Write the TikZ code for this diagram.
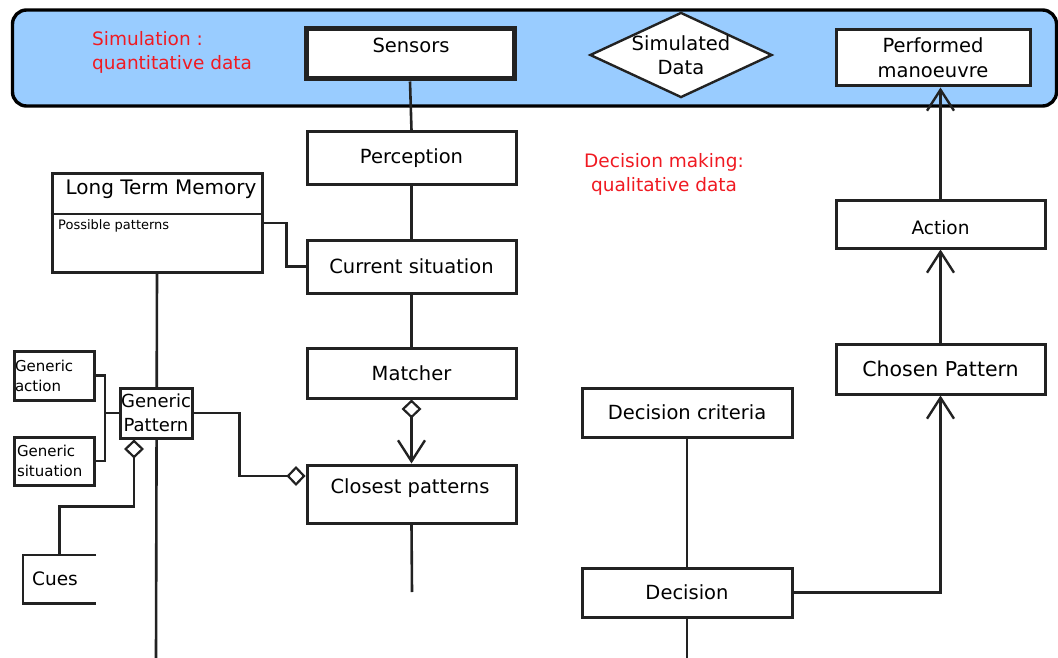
\documentclass[tikz,border=0pt]{standalone}
\usepackage{fontspec}
\setmainfont{DejaVu Sans}
\usetikzlibrary{arrows.meta,shapes.geometric}
\definecolor{bandblue}{HTML}{99CCFF}
\definecolor{redtxt}{HTML}{F01A22}
\definecolor{linec}{HTML}{222222}
\tikzset{
  box/.style={draw=linec, line width=3pt, fill=white, rectangle, inner sep=2pt, font=\fontsize{19.5}{25}\selectfont, align=center},
  smallbox/.style={draw=linec, line width=3pt, fill=white, rectangle, inner sep=1pt, font=\fontsize{15}{20}\selectfont, align=left},
  conn/.style={draw=linec, line width=2.6pt},
  redlabel/.style={text=redtxt, font=\fontsize{18.5}{24}\selectfont, inner sep=0pt},
  txt/.style={font=\fontsize{19.5}{25}\selectfont, inner sep=0pt},
  barbtip/.tip={Straight Barb[length=21pt,width=27pt,line width=2.4pt]},
  aggtip/.tip={Diamond[open,length=19pt,width=20pt,line width=2.2pt]},
}
\begin{document}
\begin{tikzpicture}[x=1pt,y=-1pt]
\useasboundingbox (0,0) rectangle (1058,658);
\fill[white] (0,0) rectangle (1058,658);

% top band
\node[draw=black, line width=3.4pt, fill=bandblue, rounded corners=14pt, minimum width=1044pt, minimum height=96pt, inner sep=0pt] (band) at (534.5,58) {};
\node[redlabel, anchor=west, align=left] (simtxt) at (92,52) {Simulation :\\quantitative data};
\node[draw=linec, line width=5pt, fill=white, minimum width=208pt, minimum height=50pt, inner sep=0pt] (sens) at (410,54) {};
\node[txt] (senstxt) at (411,45) {Sensors};
\node[diamond, draw=linec, line width=2.4pt, fill=white, minimum width=178pt, minimum height=83pt, aspect=2.14, inner sep=0pt, font=\fontsize{19.5}{24}\selectfont, align=center] (simdata) at (681,55) {Simulated\\Data};
\node[box, minimum width=194pt, minimum height=56pt] (perf) at (933,58) {Performed\\manoeuvre};

% central column
\node[box, minimum width=209pt, minimum height=53pt] (perc) at (411.5,158.5) {Perception};
\node[box, minimum width=209pt, minimum height=53pt] (cur) at (411.5,266.5) {Current situation};
\node[box, minimum width=209pt, minimum height=50pt] (match) at (411.5,373) {Matcher};
\node[draw=linec, line width=3pt, fill=white, minimum width=209pt, minimum height=58pt, inner sep=0pt] (cp) at (411.5,494) {};
\node[txt] (cptxt) at (410,488) {Closest patterns};
\coordinate (cpEnd) at (412,592);

\node[redlabel, align=center] (dmtxt) at (664,174) {Decision making:\\qualitative data};

% long term memory
\node[draw=linec, line width=3pt, fill=white, minimum width=210pt, minimum height=98pt, inner sep=0pt] (ltm) at (157,223) {};
\draw[conn] (ltm.west |- 0,214) -- (ltm.east |- 0,214);
\node[font=\fontsize{20}{25}\selectfont, inner sep=0pt] (ltmtxt) at (161,189) {Long Term Memory};
\node[font=\fontsize{13}{16}\selectfont, anchor=west, inner sep=0pt] (pptxt) at (58,226) {Possible patterns};
\coordinate (ltmEnd) at (156,658);

% right column
\node[draw=linec, line width=3pt, fill=white, minimum width=209pt, minimum height=48pt, inner sep=0pt] (act) at (940.5,224) {};
\node[font=\fontsize{18.5}{24}\selectfont, inner sep=0pt] (acttxt) at (940.5,228) {Action};
\node[box, minimum width=209pt, minimum height=50pt, font=\fontsize{20.5}{25}\selectfont] (chosen) at (940.5,369) {Chosen Pattern};
\node[box, minimum width=210pt, minimum height=49pt] (crit) at (687,412.5) {Decision criteria};
\node[box, minimum width=210pt, minimum height=49pt] (dec) at (687,592.5) {Decision};
\coordinate (decEnd) at (687,658);

% connectors
\draw[conn] (ltm.south) -- (ltmEnd);
\draw[conn] (ltm.east) -- ++(23,0) |- (cur.west);
\draw[conn] (sens.south) -- (perc.north);
\draw[conn] (perc.south) -- (cur.north);
\draw[conn] (cur.south) -- (match.north);
\draw[conn, aggtip-barbtip] (match.south) -- (cp.north);
\draw[conn] (cp.south) -- (cpEnd);
\draw[conn] (crit.south) -- (dec.north);
\draw[conn] (dec.south) -- (decEnd);
\draw[conn, -barbtip] (dec.east) -| (chosen.south);
\draw[conn, -barbtip] (chosen.north) -- (act.south);
\draw[conn, -barbtip] (act.north) -- (perf.south -| act.north);

% generic pattern cluster
\node[box, minimum width=72pt, minimum height=50pt, inner sep=1pt, font=\fontsize{18}{24}\selectfont] (gp) at (156,413) {Generic\\Pattern};
\node[smallbox, minimum width=80pt, minimum height=49pt, text width=78pt] (ga) at (54,375.5) {Generic\\action};
\node[smallbox, minimum width=80pt, minimum height=48pt, text width=74pt] (gs) at (54,461) {Generic\\situation};
\coordinate (jn) at (105,413);
\draw[conn] (ga.east) -| (jn) |- (gs.east);
\draw[conn] (jn) -- (gp.west);
\draw[conn, -aggtip] (gp.east) -- ++(46,0) |- ([yshift=18pt]cp.west);

\node[minimum width=73pt, minimum height=48pt, inner sep=0pt] (cues) at (59.5,579) {};
\node[font=\fontsize{18.5}{24}\selectfont, inner sep=0pt] (cuestxt) at (55,579) {Cues};
\draw[conn] (cues.north east) -- (cues.north west) -- (cues.south west) -- (cues.south east);
\draw[conn, aggtip-] ([xshift=-22pt]gp.south) -- ++(0,67) -| (cues.north);
\end{tikzpicture}
\end{document}
